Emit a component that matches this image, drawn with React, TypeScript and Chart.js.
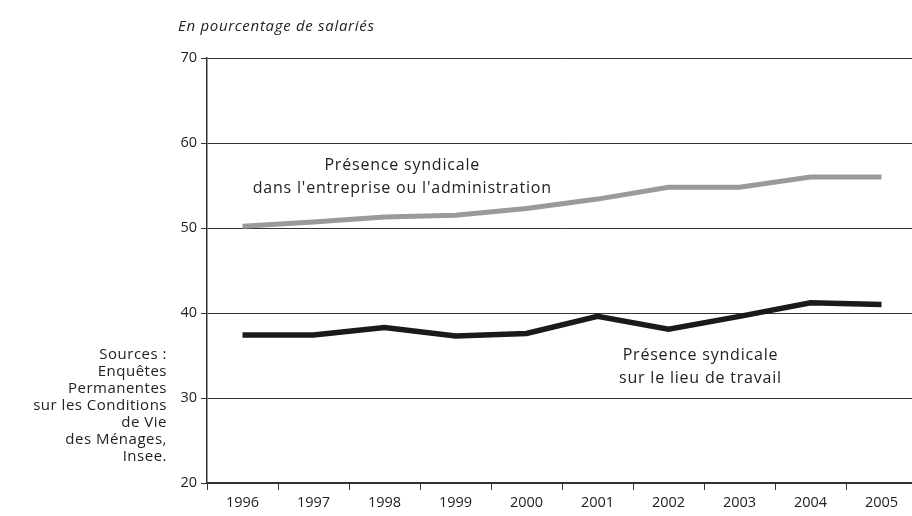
import React, { useEffect, useRef } from "react";
import { Chart, registerables } from "chart.js";

Chart.register(...registerables);

const years = ["1996", "1997", "1998", "1999", "2000", "2001", "2002", "2003", "2004", "2005"];
const presenceEntreprise = [50.2, 50.7, 51.3, 51.5, 52.3, 53.4, 54.8, 54.8, 56.0, 56.0];
const presenceLieuTravail = [37.4, 37.4, 38.3, 37.3, 37.6, 39.6, 38.1, 39.6, 41.2, 41.0];
const yTicks = [20, 30, 40, 50, 60, 70];
const labelEntreprise = ["Présence syndicale", "dans l'entreprise ou l'administration"];
const labelLieu = ["Présence syndicale", "sur le lieu de travail"];
const sourceLines = ["Sources :", "Enquêtes", "Permanentes", "sur les Conditions", "de Vie", "des Ménages,", "Insee."];
const subtitle = "En pourcentage de salariés";

const FONT = "'Open Sans', sans-serif";

const annotationPlugin = {
  id: "annots",
  afterDatasetsDraw(chart: any) {
    const { ctx, scales } = chart;
    const x = scales.x;
    const y = scales.y;
    ctx.save();
    ctx.fillStyle = "#222";
    ctx.font = "16px " + FONT;
    try { (ctx as any).letterSpacing = "0.8px"; } catch (e) {}
    ctx.textAlign = "center";
    ctx.textBaseline = "middle";
    const gx = x.getPixelForValue(2.25);
    ctx.fillText(labelEntreprise[0], gx, y.getPixelForValue(57.4));
    ctx.fillText(labelEntreprise[1], gx, y.getPixelForValue(54.7));
    const bx = x.getPixelForValue(6.45);
    ctx.fillText(labelLieu[0], bx, y.getPixelForValue(35.05));
    ctx.fillText(labelLieu[1], bx, y.getPixelForValue(32.35));
    ctx.restore();
  },
};

export default function App() {
  const ref = useRef<HTMLCanvasElement | null>(null);
  useEffect(() => {
    document.body.style.margin = "0";
    document.body.style.overflow = "hidden";
    const canvas = ref.current!;
    const chart = new Chart(canvas, {
      type: "line",
      data: {
        labels: years,
        datasets: [
          {
            data: presenceEntreprise,
            borderColor: "#9a9a9a",
            borderWidth: 5,
            pointRadius: 0,
            tension: 0,
            borderCapStyle: "butt",
            borderJoinStyle: "miter",
          },
          {
            data: presenceLieuTravail,
            borderColor: "#1a1a1a",
            borderWidth: 5.5,
            pointRadius: 0,
            tension: 0,
            borderCapStyle: "butt",
            borderJoinStyle: "miter",
          },
        ],
      },
      options: {
        responsive: false,
        animation: false,
        events: [],
        layout: { padding: { top: 58, right: 3, left: 0, bottom: 0 } },
        plugins: { legend: { display: false }, tooltip: { enabled: false }, title: { display: false } },
        scales: {
          x: {
            type: "category",
            offset: true,
            grid: { display: true, drawOnChartArea: false, offset: true, tickLength: 7, color: "#333", lineWidth: 1 },
            border: { display: true, color: "#333", width: 1.5 },
            ticks: { color: "#222", font: { family: FONT, size: 14.5 }, padding: 4, maxRotation: 0, autoSkip: false },
            afterFit: (s: any) => { s.height = 33; },
          },
          y: {
            min: 20,
            max: 70,
            afterBuildTicks: (s: any) => { s.ticks = yTicks.map((v) => ({ value: v })); },
            grid: { color: "#333", lineWidth: 1, tickLength: 6, drawTicks: true },
            border: { display: true, color: "#333", width: 1.5 },
            ticks: { color: "#222", font: { family: FONT, size: 14.5 }, padding: 4 },
            afterFit: (s: any) => { s.width = 207; },
          },
        },
      },
      plugins: [annotationPlugin],
    } as any);
    return () => chart.destroy();
  }, []);

  return (
    <div style={{ position: "fixed", left: 0, top: 0, width: 912, height: 516, overflow: "hidden", background: "#fff" }}>
      <canvas ref={ref} width={920} height={516} style={{ position: "absolute", left: 0, top: 0, width: 920, height: 516 }} />
      <div
        style={{
          position: "absolute",
          left: 178,
          top: 15,
          fontFamily: FONT,
          fontStyle: "italic",
          fontSize: 15,
          letterSpacing: "0.7px",
          lineHeight: "20px",
          color: "#222",
          whiteSpace: "nowrap",
        }}
      >
        {subtitle}
      </div>
      <div
        style={{
          position: "absolute",
          right: 912 - 167,
          top: 345,
          fontFamily: FONT,
          fontSize: 15,
          letterSpacing: "0.5px",
          lineHeight: "17px",
          color: "#222",
          textAlign: "right",
          whiteSpace: "nowrap",
        }}
      >
        {sourceLines.map((l, i) => (
          <div key={i}>{l}</div>
        ))}
      </div>
    </div>
  );
}
